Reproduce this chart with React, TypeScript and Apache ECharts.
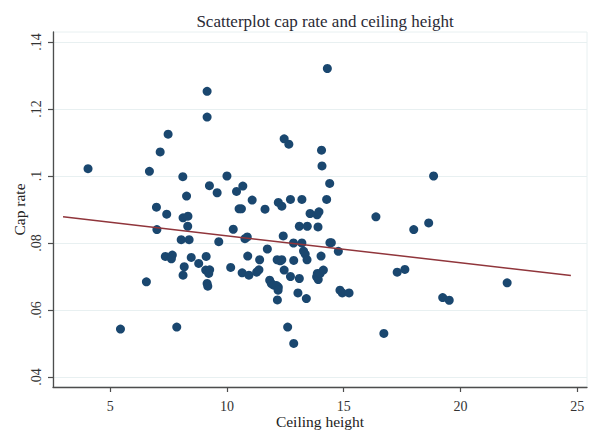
import React, { useEffect, useRef } from "react";
import * as echarts from "echarts";

const titleText = "Scatterplot cap rate and ceiling height";
const xAxisName = "Ceiling height";
const yAxisName = "Cap rate";
const xTicks = [5, 10, 15, 20, 25];
const yTicks = [0.04, 0.06, 0.08, 0.1, 0.12, 0.14];
const yTickLabels = [".04", ".06", ".08", ".1", ".12", ".14"];

const ceilingHeight = [
  4.05, 5.44, 6.55, 6.68, 6.98, 7.0, 7.14, 7.42, 7.48, 7.36, 7.66, 7.62, 7.85, 8.04, 8.11, 8.12,
  8.12, 8.17, 8.27, 8.33, 8.32, 8.38, 8.47, 8.79, 9.11, 9.09, 9.26, 9.22, 9.15, 9.18, 9.15, 9.15,
  9.25, 9.58, 9.65, 10.0, 10.16, 10.27, 10.41, 10.68, 10.52, 10.62, 10.77, 10.87, 10.89, 10.65,
  10.94, 11.08, 11.27, 11.37, 11.4, 11.63, 11.73, 11.83, 11.9, 12.0, 12.13, 12.2, 12.19, 12.16,
  12.15, 12.28, 12.35, 12.2, 12.35, 12.41, 12.45, 12.45, 12.65, 12.6, 12.72, 12.72, 12.85, 12.86,
  12.86, 13.04, 13.1, 13.1, 13.21, 13.21, 13.28, 13.35, 13.43, 13.4, 13.44, 13.56, 13.84, 13.87,
  13.91, 13.99, 14.13, 13.86, 13.9, 13.94, 14.03, 14.05, 14.07, 14.27, 14.3, 14.4, 14.41, 14.47,
  14.77, 14.84, 14.94, 15.23, 16.38, 16.72, 17.29, 17.62, 18.0, 18.64, 18.85, 19.24, 19.52, 22.0,
];
const capRate = [
  0.1022, 0.0543, 0.0684, 0.1014, 0.0907, 0.084, 0.1072, 0.0886, 0.1125, 0.076, 0.0764, 0.0753,
  0.0549, 0.081, 0.0998, 0.0875, 0.0704, 0.0729, 0.094, 0.088, 0.085, 0.081, 0.0757, 0.0739,
  0.076, 0.0719, 0.072, 0.0709, 0.0679, 0.0671, 0.1253, 0.1176, 0.0971, 0.095, 0.0804, 0.1,
  0.0727, 0.0841, 0.0954, 0.097, 0.0902, 0.0902, 0.0813, 0.0818, 0.0761, 0.0711, 0.0704, 0.0928,
  0.0713, 0.072, 0.075, 0.0901, 0.0782, 0.0689, 0.0679, 0.0674, 0.0673, 0.0668, 0.0659, 0.063,
  0.075, 0.0747, 0.075, 0.0921, 0.091, 0.0821, 0.0719, 0.1111, 0.1095, 0.0549, 0.093, 0.07, 0.08,
  0.0748, 0.05, 0.0651, 0.0694, 0.085, 0.093, 0.08, 0.0776, 0.0767, 0.075, 0.0634, 0.085, 0.0888,
  0.0699, 0.0709, 0.0691, 0.0709, 0.0719, 0.0884, 0.0848, 0.0893, 0.0761, 0.1077, 0.103, 0.093,
  0.1321, 0.0978, 0.0801, 0.0801, 0.0775, 0.0659, 0.0651, 0.0651, 0.0878, 0.053, 0.0713, 0.0721,
  0.084, 0.086, 0.1, 0.0637, 0.0629, 0.0681,
];
const fitX = [2.98, 24.73];
const fitY = [0.0878, 0.0703];

export default function App() {
  const ref = useRef<HTMLDivElement>(null);
  useEffect(() => {
    if (!ref.current) return;
    const chart = echarts.init(ref.current, null, { renderer: "svg" });
    const font = "'Liberation Serif', 'Times New Roman', serif";
    const axisColor = "#4d4d4d";
    chart.setOption({
      animation: false,
      backgroundColor: "#ffffff",
      title: {
        text: titleText,
        left: 320,
        textAlign: "center",
        top: 8,
        textStyle: { fontFamily: font, fontSize: 17, fontWeight: "normal", color: "#2a2a35" },
      },
      grid: {
        left: 53,
        right: 4,
        top: 32,
        bottom: 45,
        containLabel: false,
        outerBoundsMode: "none",
        show: true,
        borderColor: "#e8f0f1",
        borderWidth: 1,
        backgroundColor: "#ffffff",
      },
      xAxis: {
        type: "value",
        min: 2.55,
        max: 25.42,
        name: xAxisName,
        nameLocation: "middle",
        nameGap: 26,
        nameMoveOverlap: false,
        nameTextStyle: { fontFamily: font, fontSize: 15.5, color: "#222" },
        axisLine: { show: true, onZero: false, lineStyle: { color: axisColor, width: 1.3 } },
        axisTick: { show: true, inside: false, length: 5, customValues: xTicks, lineStyle: { color: axisColor, width: 1.2 } },
        axisLabel: {
          customValues: xTicks,
          fontFamily: font,
          fontSize: 14,
          color: "#333",
          margin: 12,
          showMinLabel: true,
          showMaxLabel: true,
        },
        splitLine: { show: false },
      },
      yAxis: {
        type: "value",
        min: 0.037,
        max: 0.143,
        name: yAxisName,
        nameLocation: "middle",
        nameGap: 26,
        nameMoveOverlap: false,
        nameTextStyle: { fontFamily: font, fontSize: 15.5, color: "#222" },
        axisLine: { show: true, onZero: false, lineStyle: { color: axisColor, width: 1.3 } },
        axisTick: { show: true, inside: false, length: 5, customValues: yTicks, lineStyle: { color: axisColor, width: 1.2 } },
        axisLabel: {
          customValues: yTicks,
          rotate: 90,
          fontFamily: font,
          fontSize: 14,
          color: "#333",
          margin: 10,
          formatter: (v: number) => {
            const i = yTicks.findIndex((t) => Math.abs(t - v) < 1e-9);
            return i >= 0 ? yTickLabels[i] : "";
          },
        },
        splitLine: { show: true, lineStyle: { color: "#e8f0f1", width: 1.2 } },
      },
      series: [
        {
          type: "scatter",
          data: ceilingHeight.map((x, i) => [x, capRate[i]]),
          symbol: "circle",
          symbolSize: 9,
          itemStyle: { color: "#1a476f", opacity: 1 },
          z: 2,
        },
        {
          type: "line",
          data: fitX.map((x, i) => [x, fitY[i]]),
          showSymbol: false,
          symbol: "none",
          lineStyle: { color: "#90353b", width: 1.5 },
          z: 3,
        },
      ],
    });
    return () => chart.dispose();
  }, []);
  return (
    <div
      ref={ref}
      style={{ position: "fixed", left: 0, top: 0, width: 591, height: 432, background: "#fff" }}
    />
  );
}
